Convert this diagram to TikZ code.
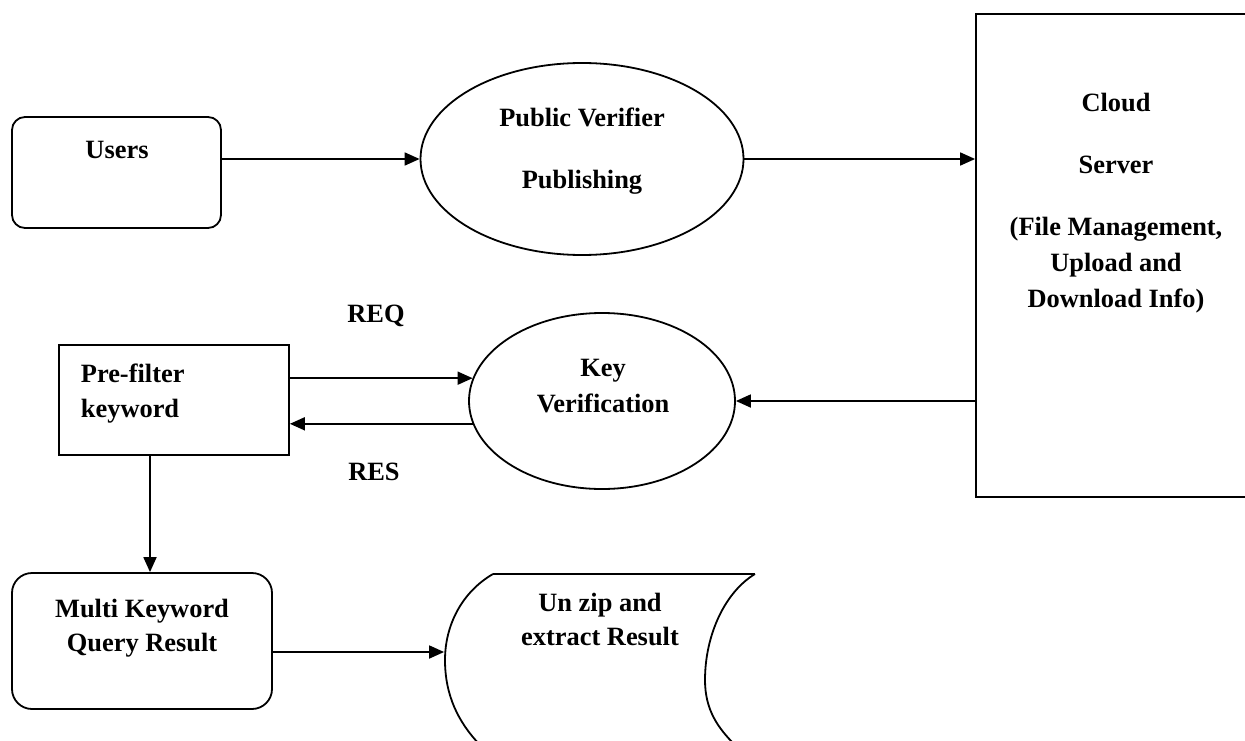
\documentclass[tikz,border=0pt]{standalone}
\usepackage{fontspec}
\setmainfont{Liberation Serif}
\usetikzlibrary{arrows.meta,shapes.geometric,calc}
\begin{document}
\begin{tikzpicture}[x=1pt,y=-1pt,line width=1.8pt,
  txt/.style={font=\fontsize{26.4}{35}\selectfont\bfseries,inner sep=0pt,anchor=base},
  arr/.style={-{Triangle[length=15pt,width=13pt]}},
  box/.style={draw,rectangle,inner sep=0pt},
  rbox/.style={draw,rectangle,rounded corners=#1,inner sep=0pt},
  oval/.style={draw,ellipse,inner sep=0pt}]
\useasboundingbox (0,0) rectangle (1245,741);
\clip (0,0) rectangle (1245,741);
% shapes
\node[rbox=13pt,minimum width=209pt,minimum height=111pt] (users) at (116.5,172.5) {};
\node[oval,minimum width=323pt,minimum height=192pt] (pv) at (582,159) {};
\node[box,minimum width=289pt,minimum height=483pt] (cloud) at (1120.5,255.5) {};
\node[box,minimum width=230pt,minimum height=110pt] (pf) at (174,400) {};
\node[oval,minimum width=266pt,minimum height=176pt] (kv) at (602,401) {};
\node[rbox=20pt,minimum width=260pt,minimum height=136pt] (mk) at (142,641) {};
\node[rectangle,inner sep=0pt,minimum width=310pt,minimum height=166pt] (stor) at (600,657) {};
% stored-data shape
\draw (493,574) -- (755,574);
\draw (493,574) .. controls (462,592) and (445,625) .. (445,660)
      .. controls (445,695) and (458,722) .. (480,745);
\draw (755,574) .. controls (725,592) and (705,635) .. (705,680)
      .. controls (705,710) and (718,728) .. (735,745);
% texts
\node[txt] (tusers) at (117,158) {Users};
\node[txt] (tpv1) at (582,127) {Public Verifier};
\node[txt] (tpv2) at (582,188) {Publishing};
\node[txt] (tc1) at (1116,112) {Cloud};
\node[txt] (tc2) at (1116,174) {Server};
\node[txt] (tc3) at (1116,235) {(File Management,};
\node[txt] (tc4) at (1116,271) {Upload and};
\node[txt] (tc5) at (1116,307) {Download Info)};
\node[txt,anchor=base west] (tpf1) at (80,382) {Pre-filter};
\node[txt,anchor=base west] (tpf2) at (80,417) {keyword};
\node[txt] (treq) at (376,322) {REQ};
\node[txt] (tres) at (374,480) {RES};
\node[txt] (tkv1) at (603,376) {Key};
\node[txt] (tkv2) at (603,412) {Verification};
\node[txt] (tmk1) at (142,617) {Multi Keyword};
\node[txt] (tmk2) at (142,651) {Query Result};
\node[txt] (tst1) at (600,611) {Un zip and};
\node[txt] (tst2) at (600,645) {extract Result};
% connectors
\draw[arr] (pv.west -| users.east) -- (pv.west);
\draw[arr] (pv.east) -- (pv.east -| cloud.west);
\draw[arr] (kv.east -| cloud.west) -- (kv.east);
\draw[arr] (kv.170 -| pf.east) -- (kv.170);
\draw[arr] (kv.190) -- (kv.190 -| pf.east);
\draw[arr] ([xshift=-24pt]pf.south) -- ([xshift=-24pt]pf.south |- mk.north);
\draw[arr] ([yshift=-11pt]mk.east) -- ([yshift=-11pt]mk.east -| stor.west);
\end{tikzpicture}
\end{document}
